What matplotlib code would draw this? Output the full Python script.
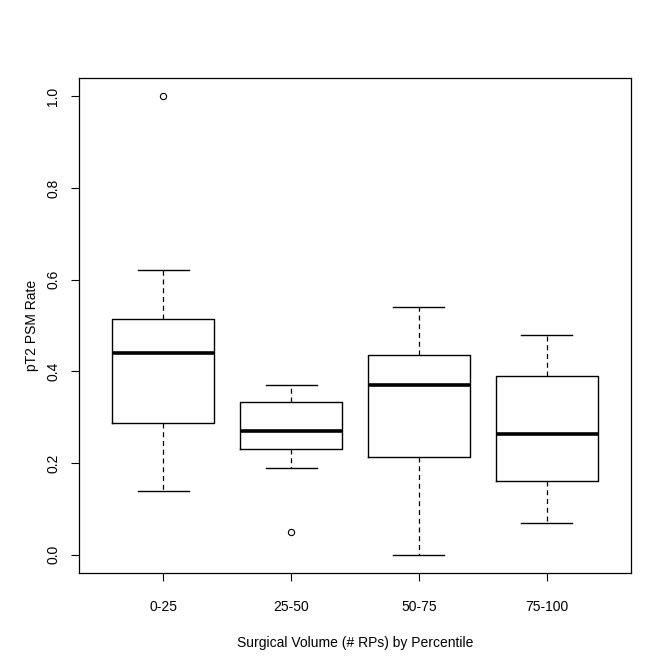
import matplotlib
matplotlib.use("Agg")
import matplotlib.pyplot as plt

categories = ["0-25", "25-50", "50-75", "75-100"]
whisker_low = [0.14, 0.19, 0.00, 0.07]
q1 = [0.288, 0.23, 0.214, 0.16]
median = [0.44, 0.269, 0.37, 0.264]
q3 = [0.514, 0.334, 0.435, 0.389]
whisker_high = [0.621, 0.37, 0.54, 0.479]
outliers = [[1.0], [0.05], [], []]
yticks = [0.0, 0.2, 0.4, 0.6, 0.8, 1.0]

plt.rcParams['font.family'] = ['Liberation Sans', 'DejaVu Sans']

fig = plt.figure(figsize=(6.72, 6.71), dpi=100)
W, H = 672, 671
ax = fig.add_axes([79 / W, (H - 573) / H, (631 - 79) / W, (573 - 78) / H])

stats = []
for i, c in enumerate(categories):
    stats.append(dict(med=median[i], q1=q1[i], q3=q3[i], whislo=whisker_low[i],
                      whishi=whisker_high[i], fliers=outliers[i], label=c))

ax.bxp(stats, positions=range(1, len(categories) + 1), widths=0.8,
       boxprops=dict(color='black', linewidth=1.0),
       medianprops=dict(color='black', linewidth=2.6, solid_capstyle='butt'),
       whiskerprops=dict(color='black', linewidth=0.9, linestyle=(0, (4, 3))),
       capprops=dict(color='black', linewidth=1.0),
       capwidths=0.4,
       flierprops=dict(marker='o', markerfacecolor='none', markeredgecolor='black',
                       markersize=4.5, markeredgewidth=0.8),
       manage_ticks=False)

ax.set_xlim(0.34, 4.66)
ax.set_ylim(-0.04, 1.04)
ax.set_xticks(range(1, len(categories) + 1))
ax.set_xticklabels(categories, fontsize=10)
ax.set_yticks(yticks)
ax.set_yticklabels([f"{v:.1f}" for v in yticks], fontsize=10, rotation=90, va='center')
ax.tick_params(direction='out', length=5.5, width=0.8, color='black')
ax.tick_params(axis='x', pad=14)
ax.tick_params(axis='y', pad=8)
for s in ax.spines.values():
    s.set_linewidth(0.9)
    s.set_color('black')

ax.set_xlabel("Surgical Volume (# RPs) by Percentile", fontsize=10, labelpad=15.5)
ax.set_ylabel("pT2 PSM Rate", fontsize=10, labelpad=5)

fig.savefig("out.png", dpi=100)
